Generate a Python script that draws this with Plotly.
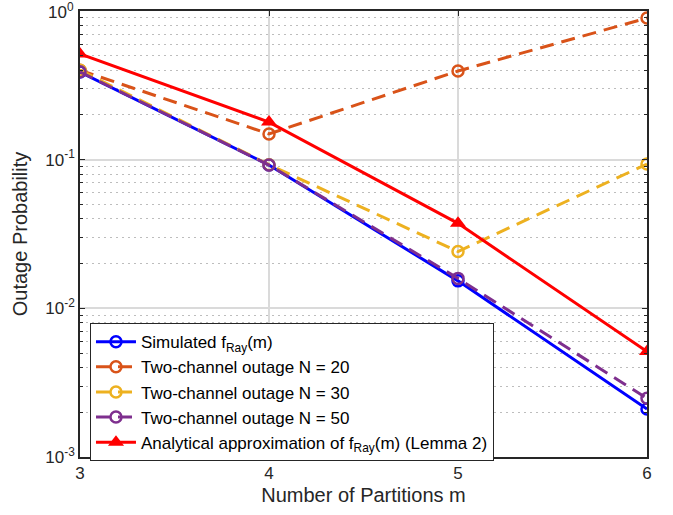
import plotly.graph_objects as go

m = [3, 4, 5, 6]
sim_ray = [0.389, 0.092, 0.0153, 0.00210]
two_n20 = [0.400, 0.149, 0.395, 0.897]
two_n30 = [0.400, 0.0925, 0.0241, 0.0935]
two_n50 = [0.390, 0.0920, 0.0159, 0.00248]
analytic = [0.514, 0.179, 0.0373, 0.00512]

names = [
    "Simulated f<sub>Ray</sub>(m)",
    "Two-channel outage N = 20",
    "Two-channel outage N = 30",
    "Two-channel outage N = 50",
    "Analytical approximation of f<sub>Ray</sub>(m) (Lemma 2)",
]

ytick_vals = [1e-3, 1e-2, 1e-1, 1e0]
ytick_text = ["10<sup>-3</sup>", "10<sup>-2</sup>", "10<sup>-1</sup>", "10<sup>0</sup>"]

fig = go.Figure()
dash = "14px,8px"
circ = dict(symbol="circle-open", size=11, line=dict(width=2.5))

fig.add_trace(go.Scatter(x=m, y=sim_ray, name=names[0], mode="lines+markers",
                         line=dict(color="#0000FF", width=3),
                         marker=dict(color="#0000FF", **circ)))
fig.add_trace(go.Scatter(x=m, y=two_n20, name=names[1], mode="lines+markers",
                         line=dict(color="#D95319", width=3, dash=dash),
                         marker=dict(color="#D95319", **circ)))
fig.add_trace(go.Scatter(x=m, y=two_n30, name=names[2], mode="lines+markers",
                         line=dict(color="#EDB120", width=3, dash=dash),
                         marker=dict(color="#EDB120", **circ)))
fig.add_trace(go.Scatter(x=m, y=two_n50, name=names[3], mode="lines+markers",
                         line=dict(color="#7E2F8E", width=3, dash=dash),
                         marker=dict(color="#7E2F8E", **circ)))
fig.add_trace(go.Scatter(x=m, y=analytic, name=names[4], mode="lines+markers",
                         line=dict(color="#FF0000", width=3),
                         marker=dict(color="#FF0000", symbol="triangle-up", size=14)))

tick_font = dict(family="Liberation Sans, Arial, sans-serif", size=17, color="#262626")
title_font = dict(family="Liberation Sans, Arial, sans-serif", size=20, color="#262626")

fig.update_layout(
    width=673, height=515,
    margin=dict(l=80, r=26, t=11, b=58),
    paper_bgcolor="white", plot_bgcolor="white",
    font=dict(family="Liberation Sans, Arial, sans-serif", size=17, color="#262626"),
    showlegend=True,
    legend=dict(x=0.0176, y=0.30, xanchor="left", yanchor="top",
                bgcolor="white", bordercolor="#262626", borderwidth=1,
                font=dict(size=17, color="black"), itemwidth=40, tracegroupgap=0),
    xaxis=dict(
        range=[3, 6], tickvals=m, ticktext=[str(v) for v in m],
        showgrid=True, gridcolor="#DADADA", gridwidth=1.5,
        ticks="inside", ticklen=5, tickcolor="#262626",
        showline=True, linecolor="#262626", linewidth=1.5, mirror="ticks",
        zeroline=False, tickfont=tick_font, automargin=False,
        title=dict(text="Number of Partitions m", font=title_font, standoff=6),
    ),
    yaxis=dict(
        type="log", range=[-3.0002, 0.0002],
        tickvals=ytick_vals, ticktext=ytick_text,
        showgrid=True, gridcolor="#DADADA", gridwidth=1.5,
        ticks="inside", ticklen=5, tickcolor="#262626",
        showline=True, linecolor="#262626", linewidth=1.5, mirror="ticks",
        zeroline=False, tickfont=tick_font, automargin=False,
        minor=dict(dtick="D1", ticks="inside", ticklen=3, tickcolor="#262626",
                   showgrid=True, gridcolor="#BDBDBD", griddash="2px,4px", gridwidth=1),
        title=dict(text="Outage Probability", font=title_font, standoff=12),
    ),
)

# top tick label (plotly hides it at the figure edge), drawn at its data position
fig.add_annotation(x=0, xref="paper", xanchor="right", xshift=-4,
                   y=0, yref="y", yanchor="middle",
                   text=ytick_text[-1], showarrow=False, font=tick_font)

fig.write_html("out.html", config={"displayModeBar": False},
               post_script="document.body.style.margin='0';document.body.style.padding='0';")
